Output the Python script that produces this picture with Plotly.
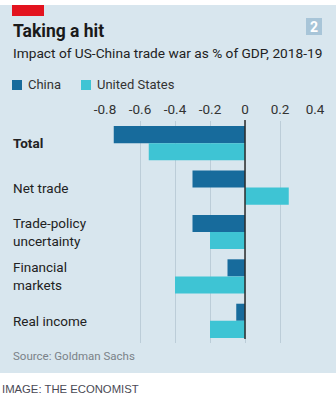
import plotly.graph_objects as go

categories = ["Total", "Net trade", "Trade-policy uncertainty", "Financial markets", "Real income"]
category_labels = ["<b>Total</b>", "Net trade", "Trade-policy<br>uncertainty", "Financial<br>markets", "Real income"]
china = [-0.75, -0.30, -0.30, -0.10, -0.05]
united_states = [-0.55, 0.25, -0.20, -0.40, -0.20]
tick_vals = [-0.8, -0.6, -0.4, -0.2, 0, 0.2, 0.4]
tick_text = ["-0.8", "-0.6", "-0.4", "-0.2", "0", "0.2", "0.4"]

W, H = 336, 401
ML, MR, MT, MB = 105, 21, 121, 58
PW, PH = W - ML - MR, H - MT - MB

def px_x(x):
    return (x - ML) / PW

def px_y(y):
    return 1 - (y - MT) / PH

FONT = "Roboto"
C_CHINA = "#176b9c"
C_US = "#3ec4d4"
BG = "#d8e6ee"

fig = go.Figure()
fig.add_trace(go.Bar(y=categories, x=china, orientation="h", name="China",
                     marker=dict(color=C_CHINA, line=dict(width=0))))
fig.add_trace(go.Bar(y=categories, x=united_states, orientation="h", name="United States",
                     marker=dict(color=C_US, line=dict(width=0))))

shapes = [
    dict(type="rect", xref="paper", yref="paper", x0=px_x(0), x1=px_x(W), y0=px_y(5), y1=px_y(373),
         fillcolor=BG, line=dict(width=0), layer="below"),
    dict(type="rect", xref="paper", yref="paper", x0=px_x(12), x1=px_x(44), y0=px_y(5), y1=px_y(16),
         fillcolor="#e3131e", line=dict(width=0), layer="below"),
    dict(type="rect", xref="paper", yref="paper", x0=px_x(306), x1=px_x(322), y0=px_y(18), y1=px_y(35),
         fillcolor="#a8c5d8", line=dict(width=0), layer="below"),
    dict(type="rect", xref="paper", yref="paper", x0=px_x(12), x1=px_x(22), y0=px_y(80), y1=px_y(90),
         fillcolor=C_CHINA, line=dict(width=0)),
    dict(type="rect", xref="paper", yref="paper", x0=px_x(81), x1=px_x(91), y0=px_y(80), y1=px_y(90),
         fillcolor=C_US, line=dict(width=0)),
    dict(type="line", xref="x", yref="paper", x0=0, x1=0, y0=px_y(339), y1=px_y(120),
         line=dict(color="#2b2b2b", width=1.5), layer="above"),
]

annotations = [
    dict(text="<b>Taking a hit</b>", x=px_x(11), y=px_y(31), xanchor="left", yanchor="middle",
         font=dict(family=FONT, size=17.5, color="#1a1a1a")),
    dict(text="<b>2</b>", x=px_x(314), y=px_y(26.5), xanchor="center", yanchor="middle",
         font=dict(family=FONT, size=14, color="white")),
    dict(text="Impact of US-China trade war as % of GDP, 2018-19", x=px_x(11), y=px_y(53),
         xanchor="left", yanchor="middle", font=dict(family=FONT, size=13.7, color="#222")),
    dict(text="China", x=px_x(26), y=px_y(85), xanchor="left", yanchor="middle",
         font=dict(family=FONT, size=13, color="#333")),
    dict(text="United States", x=px_x(95), y=px_y(85), xanchor="left", yanchor="middle",
         font=dict(family=FONT, size=13, color="#333")),
    dict(text="Source: Goldman Sachs", x=px_x(11), y=px_y(356), xanchor="left", yanchor="middle",
         font=dict(family=FONT, size=11.5, color="#7a8288")),
    dict(text="IMAGE: THE ECONOMIST", x=px_x(0), y=px_y(389), xanchor="left", yanchor="middle",
         font=dict(family="Liberation Sans", size=11.3, color="#4a4a55")),
]
for cat, lab in zip(categories, category_labels):
    annotations.append(dict(text=lab, x=px_x(11), xref="paper", y=cat, yref="y",
                            xanchor="left", yanchor="middle", align="left",
                            font=dict(family=FONT, size=13.5, color="#222")))
for a in annotations:
    a.setdefault("xref", "paper")
    a.setdefault("yref", "paper")
    a["showarrow"] = False

fig.update_layout(
    width=W, height=H,
    margin=dict(l=ML, r=MR, t=MT, b=MB),
    paper_bgcolor="white", plot_bgcolor="rgba(0,0,0,0)",
    barmode="group", bargap=0.23, bargroupgap=0,
    showlegend=False,
    shapes=shapes, annotations=annotations,
    font=dict(family=FONT),
)
fig.update_xaxes(range=[-0.8, 0.4], side="top", tickvals=tick_vals, ticktext=tick_text,
                 showgrid=True, gridcolor="#bccdd8", gridwidth=1, zeroline=False,
                 tickfont=dict(family=FONT, size=13.5, color="#333"), ticks="", ticklabelstandoff=3,
                 showline=False, fixedrange=True)
fig.update_yaxes(autorange="reversed", showticklabels=False, showgrid=False, zeroline=False,
                 showline=False, fixedrange=True)

fig.write_html("out.html", config=dict(displayModeBar=False))
